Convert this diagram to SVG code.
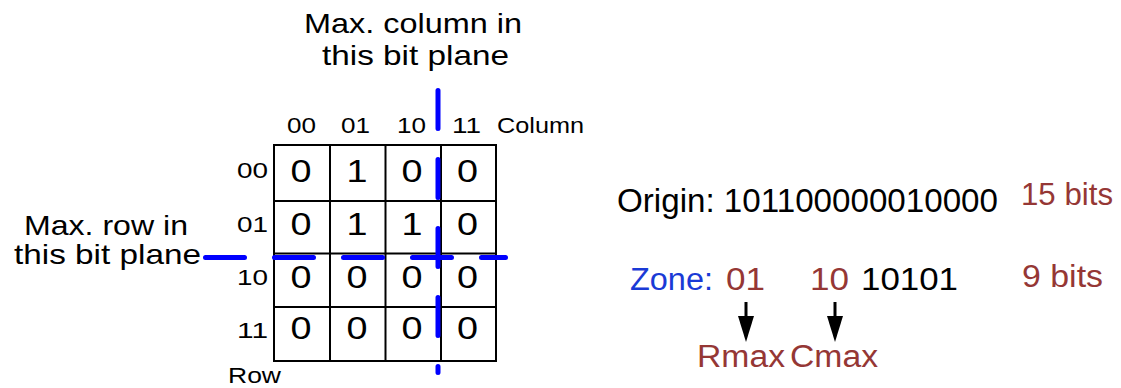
<svg xmlns="http://www.w3.org/2000/svg" width="1121" height="388" viewBox="0 0 1121 388">
  <style>
    text { font-family: "Liberation Sans", Arial, sans-serif; fill: #000; }
    .title { font-size: 28px; }
    .axis { font-size: 22px; }
    .cell { font-size: 31px; }
    .big { font-size: 33px; }
    .mid { font-size: 31px; }
    .red { fill: #953735; }
    .blue { fill: #1a3ad6; }
    .grid { fill: none; stroke: #000; stroke-width: 2; }
    .maxline { stroke: #0000ff; stroke-width: 5; stroke-linecap: round; fill: none; }
    .shaft { stroke: #000; stroke-width: 3; }
  </style>
  <defs>
    <marker id="arrowhead" markerWidth="26" markerHeight="16" refX="0" refY="8" orient="auto" markerUnits="userSpaceOnUse" viewBox="0 0 26 16">
      <polygon points="0,0 26,8 0,16" fill="#000"/>
    </marker>
  </defs>

  <!-- caption over the matrix -->
  <g id="col-caption">
    <text class="title" x="304" y="33" textLength="218" lengthAdjust="spacingAndGlyphs">Max. column in</text>
    <text class="title" x="322" y="65" textLength="187" lengthAdjust="spacingAndGlyphs">this bit plane</text>
  </g>

  <!-- caption left of the matrix -->
  <g id="row-caption">
    <text class="title" x="24" y="235" textLength="164" lengthAdjust="spacingAndGlyphs">Max. row in</text>
    <text class="title" x="14" y="264" textLength="187" lengthAdjust="spacingAndGlyphs">this bit plane</text>
  </g>

  <!-- 4x4 bit plane -->
  <g id="bit-plane">
    <rect class="grid" x="274" y="145" width="222" height="216"/>
    <line class="grid" x1="330" y1="145" x2="330" y2="361"/>
    <line class="grid" x1="385.5" y1="145" x2="385.5" y2="361"/>
    <line class="grid" x1="441" y1="145" x2="441" y2="361"/>
    <line class="grid" x1="274" y1="201" x2="496" y2="201"/>
    <line class="grid" x1="274" y1="253.5" x2="496" y2="253.5"/>
    <line class="grid" x1="274" y1="307" x2="496" y2="307"/>

    <g class="cells">
      <text class="cell" x="290.5" y="182" textLength="21" lengthAdjust="spacingAndGlyphs">0</text>
      <text class="cell" x="346.5" y="182" textLength="21" lengthAdjust="spacingAndGlyphs">1</text>
      <text class="cell" x="401.5" y="182" textLength="21" lengthAdjust="spacingAndGlyphs">0</text>
      <text class="cell" x="457" y="182" textLength="21" lengthAdjust="spacingAndGlyphs">0</text>

      <text class="cell" x="290.5" y="235" textLength="21" lengthAdjust="spacingAndGlyphs">0</text>
      <text class="cell" x="346.5" y="235" textLength="21" lengthAdjust="spacingAndGlyphs">1</text>
      <text class="cell" x="401.5" y="235" textLength="21" lengthAdjust="spacingAndGlyphs">1</text>
      <text class="cell" x="457" y="235" textLength="21" lengthAdjust="spacingAndGlyphs">0</text>

      <text class="cell" x="290.5" y="288" textLength="21" lengthAdjust="spacingAndGlyphs">0</text>
      <text class="cell" x="346.5" y="288" textLength="21" lengthAdjust="spacingAndGlyphs">0</text>
      <text class="cell" x="401.5" y="288" textLength="21" lengthAdjust="spacingAndGlyphs">0</text>
      <text class="cell" x="457" y="288" textLength="21" lengthAdjust="spacingAndGlyphs">0</text>

      <text class="cell" x="290.5" y="339" textLength="21" lengthAdjust="spacingAndGlyphs">0</text>
      <text class="cell" x="346.5" y="339" textLength="21" lengthAdjust="spacingAndGlyphs">0</text>
      <text class="cell" x="401.5" y="339" textLength="21" lengthAdjust="spacingAndGlyphs">0</text>
      <text class="cell" x="457" y="339" textLength="21" lengthAdjust="spacingAndGlyphs">0</text>
    </g>
  </g>

  <!-- column headings -->
  <g id="col-labels">
    <text class="axis" x="287" y="133" textLength="29" lengthAdjust="spacingAndGlyphs">00</text>
    <text class="axis" x="341" y="133" textLength="29" lengthAdjust="spacingAndGlyphs">01</text>
    <text class="axis" x="397" y="133" textLength="29" lengthAdjust="spacingAndGlyphs">10</text>
    <text class="axis" x="452" y="133" textLength="29" lengthAdjust="spacingAndGlyphs">11</text>
    <text class="axis" x="497" y="133" textLength="87" lengthAdjust="spacingAndGlyphs">Column</text>
  </g>

  <!-- row headings -->
  <g id="row-labels">
    <text class="axis" x="237" y="178" textLength="31" lengthAdjust="spacingAndGlyphs">00</text>
    <text class="axis" x="237" y="232" textLength="31" lengthAdjust="spacingAndGlyphs">01</text>
    <text class="axis" x="237" y="285" textLength="31" lengthAdjust="spacingAndGlyphs">10</text>
    <text class="axis" x="237" y="338" textLength="31" lengthAdjust="spacingAndGlyphs">11</text>
    <text class="axis" x="228" y="383" textLength="53" lengthAdjust="spacingAndGlyphs">Row</text>
  </g>

  <!-- dashed max row / max column boundaries -->
  <g id="max-bounds">
    <line class="maxline" x1="438" y1="90.5" x2="438" y2="372.5" stroke-dasharray="38 31"/>
    <line class="maxline" x1="205.5" y1="257.5" x2="505.5" y2="257.5" stroke-dasharray="39 30"/>
  </g>

  <!-- encoded fields -->
  <g id="origin">
    <text class="big" x="617" y="212" textLength="381" lengthAdjust="spacingAndGlyphs">Origin: 101100000010000</text>
    <text class="mid red" x="1021" y="205" textLength="92" lengthAdjust="spacingAndGlyphs">15 bits</text>
  </g>

  <g id="zone">
    <text class="mid blue" x="630" y="290" textLength="83" lengthAdjust="spacingAndGlyphs">Zone:</text>
    <text class="mid red" x="726" y="290" textLength="39" lengthAdjust="spacingAndGlyphs">01</text>
    <text class="mid red" x="810" y="290" textLength="39" lengthAdjust="spacingAndGlyphs">10</text>
    <text class="mid" x="861" y="290" textLength="97" lengthAdjust="spacingAndGlyphs">10101</text>
    <text class="mid red" x="1022" y="287" textLength="81" lengthAdjust="spacingAndGlyphs">9 bits</text>
  </g>

  <g id="rmax">
    <text class="mid red" x="697" y="367" textLength="88" lengthAdjust="spacingAndGlyphs">Rmax</text>
  </g>
  <g id="cmax">
    <text class="mid red" x="790" y="367" textLength="88" lengthAdjust="spacingAndGlyphs">Cmax</text>
  </g>

  <g id="connectors">
    <line class="shaft" x1="746" y1="302" x2="746" y2="316" marker-end="url(#arrowhead)"/>
    <line class="shaft" x1="835" y1="302" x2="835" y2="316" marker-end="url(#arrowhead)"/>
  </g>
</svg>
